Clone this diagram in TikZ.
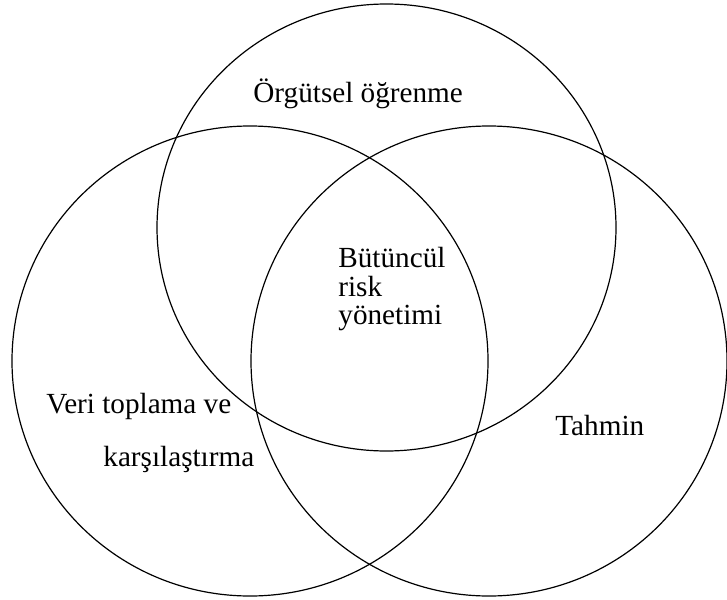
\documentclass[tikz,border=0pt]{standalone}
\usepackage{fontspec}
\setmainfont{Liberation Serif}
\usetikzlibrary{positioning}

\begin{document}
\begin{tikzpicture}[
    x=0.5pt, y=-0.5pt,
    setline/.style={draw, line width=0.6pt},
    lbl/.style={font=\fontsize{14.6}{17}\selectfont, inner sep=0pt, anchor=base west},
    stack/.style={font=\fontsize{14.6}{14.2}\selectfont, inner sep=0pt, align=left, anchor=north west}
  ]
    \useasboundingbox (0,0) rectangle (727,599);

    % three sets
    \draw[setline] (386.5,227.5) ellipse [x radius=229.5, y radius=223.5];
    \draw[setline] (250,361) ellipse [x radius=238, y radius=235];
    \draw[setline] (489,361) ellipse [x radius=238, y radius=235];

    % labels
    \node[lbl] (org)  at (253,103) {Örgütsel öğrenme};
    \node[stack] (brm) at (338,247) {Bütüncül\\risk\\yönetimi};
    \node[lbl] (veri) at (46,413)  {Veri toplama ve};
    \node[lbl] (kars) at (103,466) {karşılaştırma};
    \node[lbl] (tah)  at (555,435) {Tahmin};
\end{tikzpicture}
\end{document}
